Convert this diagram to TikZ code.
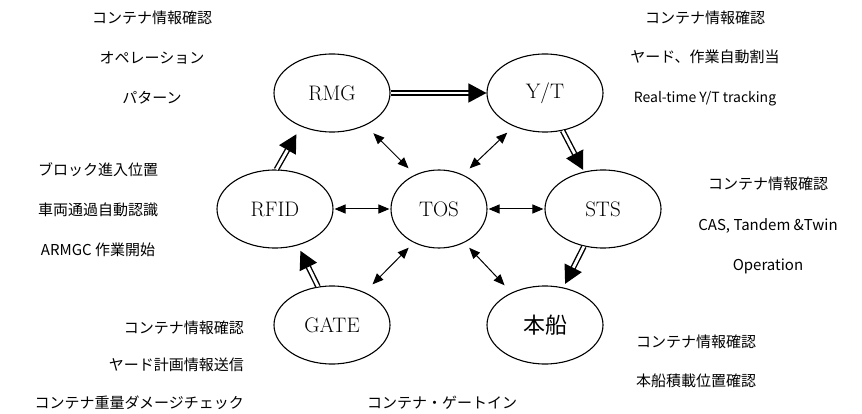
\documentclass[tikz,border=0pt]{standalone}
\usepackage{fontspec}
\newfontfamily\jp{Noto Sans CJK JP}
\usetikzlibrary{shapes.geometric,arrows.meta}

\begin{document}
\begin{tikzpicture}[x=1pt,y=-1pt,
  unit/.style={ellipse, draw, line width=1.1pt, minimum width=116pt,
    minimum height=78pt, inner sep=0pt, font=\fontsize{21}{25}\selectfont},
  flow/.style={double, line width=1.4pt, double distance=2.8pt,
    -{Triangle[length=18pt,width=19pt]}},
  link/.style={line width=1pt,
    {Triangle[length=11pt,width=9pt]}-{Triangle[length=11pt,width=9pt]}},
  note/.style={font=\jp\fontsize{15}{18}\selectfont, inner sep=0pt,
    text height=12pt, text depth=1.5pt}
]
\useasboundingbox (0,0) rectangle (862,414);

% equipment and systems
\node[unit] (rmg)  at (332,93)  {RMG};
\node[unit] (yt)   at (545,93)  {Y/T};
\node[unit] (rfid) at (275,209) {RFID};
\node[unit, minimum width=96pt] (tos) at (439,209) {TOS};
\node[unit] (sts)  at (603,209) {STS};
\node[unit] (gate) at (332,325) {GATE};
\node[unit, font=\jp\fontsize{22}{26}\selectfont] (ship) at (545,325) {本船};

% container flow
\draw[flow] (rmg.east) -- (yt.west);
\draw[flow, shorten >=2pt] (yt.-65) -- (sts.117);
\draw[flow, shorten >=4pt] (sts.-117) -- (ship.64);
\draw[flow, shorten >=6pt] (gate.110) -- (rfid.-58);
\draw[flow, shorten >=9pt] (rfid.88) -- (rmg.-133);

% information exchange with TOS
\draw[link, shorten <=9pt, shorten >=11pt] (tos.125) -- (rmg.-44);
\draw[link, shorten <=9pt, shorten >=9pt] (tos.55) -- (yt.-133);
\draw[link, shorten <=1pt, shorten >=1pt] (tos.west) -- (rfid.east);
\draw[link, shorten <=1pt, shorten >=1pt] (tos.east) -- (sts.west);
\draw[link, shorten <=7pt, shorten >=11pt] (tos.-127) -- (gate.45);
\draw[link, shorten <=7pt, shorten >=10pt] (tos.-53) -- (ship.136);

% descriptions
\node[note] (n1) at (152,18) {コンテナ情報確認};
\node[note] (n2) at (152,58) {オペレーション};
\node[note] (n3) at (152,98) {パターン};

\node[note] (n4) at (705,18) {コンテナ情報確認};
\node[note] (n5) at (705,57) {ヤード、作業自動割当};
\node[note, font=\jp\fontsize{14}{17}\selectfont] (n6) at (705,97) {Real-time Y/T tracking};

\node[note] (n7) at (98,170) {ブロック進入位置};
\node[note] (n8) at (98,210) {車両通過自動認識};
\node[note] (n9) at (98,250) {ARMGC 作業開始};

\node[note] (n10) at (768,184) {コンテナ情報確認};
\node[note] (n11) at (768,225) {CAS, Tandem \&Twin};
\node[note] (n12) at (768,265) {Operation};

\node[note, anchor=east] (n13) at (244,328) {コンテナ情報確認};
\node[note, anchor=east] (n14) at (244,365) {ヤード計画情報送信};
\node[note, anchor=east] (n15) at (244,403) {コンテナ重量ダメージチェック};

\node[note] (n16) at (442,403) {コンテナ・ゲートイン};

\node[note, anchor=west] (n17) at (636,342) {コンテナ情報確認};
\node[note, anchor=west] (n18) at (636,381) {本船積載位置確認};
\end{tikzpicture}
\end{document}
